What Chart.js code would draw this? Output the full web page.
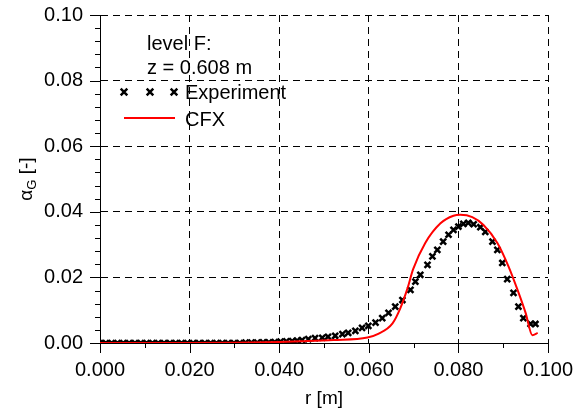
<!DOCTYPE html>
<html>
<head>
<meta charset="utf-8">
<script src="https://cdn.jsdelivr.net/npm/chart.js@4/dist/chart.umd.min.js"></script>
<style>
html,body{margin:0;padding:0;background:#fff;}
canvas{display:block;}
</style>
</head>
<body>
<canvas id="c" width="583" height="410"></canvas>
<script>
// ---- data ----
const rExp = [0.0000,0.0013,0.0026,0.0039,0.0052,0.0065,0.0078,0.0091,0.0104,0.0117,0.0130,0.0143,0.0156,0.0169,0.0182,0.0195,0.0208,0.0221,0.0234,0.0247,0.0260,0.0273,0.0286,0.0299,0.0312,0.0325,0.0338,0.0351,0.0364,0.0377,0.0390,0.0403,0.0416,0.0429,0.0440,
  0.0451,0.0465,0.0480,0.0496,0.0509,0.0525,0.0541,0.0554,0.0570,0.0585,0.0599,0.0615,0.0630,0.0644,0.0659,0.0675,0.0693,0.0704,0.0715,0.0731,0.0742,0.0753,0.0766,0.0778,0.0789,0.0800,0.0811,0.0822,0.0834,0.0849,0.0860,0.0876,0.0887,0.0898,0.0909,0.0923,0.0934,0.0945,0.0961,0.0972];
const alphaExp = [0.0000,0.0000,0.0000,0.0000,0.0000,0.0000,0.0000,0.0000,0.0000,0.0000,0.0000,0.0000,0.0000,0.0000,0.0000,0.0000,0.0000,0.0000,0.0000,0.0000,0.0000,0.0000,0.0000,0.0000,0.0000,0.0001,0.0001,0.0001,0.0002,0.0002,0.0003,0.0004,0.0005,0.0006,0.0007,
  0.0009,0.0012,0.0015,0.0016,0.0019,0.0022,0.0027,0.0031,0.0037,0.0046,0.0052,0.0062,0.0076,0.0092,0.0111,0.0131,0.0162,0.0187,0.0208,0.0238,0.0264,0.0284,0.0309,0.0330,0.0345,0.0355,0.0363,0.0366,0.0362,0.0353,0.0339,0.0309,0.0284,0.0244,0.0195,0.0153,0.0111,0.0076,0.0058,0.0058];
const rCfx = [0.0000,0.0100,0.0200,0.0300,0.0400,0.0447,0.0521,0.0597,0.0621,0.0653,0.0670,0.0686,0.0699,0.0726,0.0760,0.0789,0.0804,0.0831,0.0856,0.0887,0.0912,0.0932,0.0950,0.0965,0.0977];
const alphaCfx = [0.0000,0.0000,0.0000,0.0001,0.0003,0.0005,0.0009,0.0017,0.0028,0.0060,0.0105,0.0165,0.0225,0.0305,0.0365,0.0388,0.0391,0.0384,0.0360,0.0305,0.0233,0.0162,0.0092,0.0024,0.0031];
const xTicksMajor = [0.000,0.020,0.040,0.060,0.080,0.100];
const yTicksMajor = [0.00,0.02,0.04,0.06,0.08,0.10];
const legendTitle = ['level F:', 'z = 0.608 m'];
const seriesNames = ['Experiment', 'CFX'];

const FONT = '"Liberation Sans", Arial, sans-serif';
const isMajor = (v, list) => list.some(m => Math.abs(m - v) < 1e-7);

const tickPlugin = {
  id: 'ticksAndText',
  afterDraw(chart) {
    const ctx = chart.ctx;
    const ca = chart.chartArea;
    const xs = chart.scales.x, ys = chart.scales.y;
    ctx.save();
    ctx.strokeStyle = '#000';
    ctx.lineWidth = 1;
    ctx.beginPath();
    xs.ticks.forEach(t => {
      const px = Math.round(xs.getPixelForValue(t.value)) + 0.5;
      const len = isMajor(t.value, xTicksMajor) ? 10 : 5;
      ctx.moveTo(px, ca.bottom); ctx.lineTo(px, ca.bottom + len);
    });
    ys.ticks.forEach(t => {
      const py = Math.round(ys.getPixelForValue(t.value)) + 0.5;
      const len = isMajor(t.value, yTicksMajor) ? 10 : 5;
      ctx.moveTo(ca.left, py); ctx.lineTo(ca.left - len, py);
    });
    ctx.stroke();

    // y axis title: alpha_G [-]
    ctx.fillStyle = '#000';
    ctx.translate(32, (ca.top + ca.bottom) / 2);
    ctx.rotate(-Math.PI / 2);
    ctx.textBaseline = 'alphabetic';
    ctx.textAlign = 'left';
    const f1 = '19px ' + FONT, f2 = '13px ' + FONT;
    ctx.font = f1; const wa = ctx.measureText('α').width;
    ctx.font = f2; const wg = ctx.measureText('G').width;
    ctx.font = f1; const wb = ctx.measureText(' [-]').width;
    let x0 = -(wa + wg + wb) / 2;
    ctx.font = f1; ctx.fillText('α', x0, 0);
    ctx.font = f2; ctx.fillText('G', x0 + wa, 4);
    ctx.font = f1; ctx.fillText(' [-]', x0 + wa + wg, 0);
    ctx.restore();

    // legend
    ctx.save();
    ctx.fillStyle = '#000';
    ctx.font = '20px ' + FONT;
    ctx.textAlign = 'left';
    ctx.textBaseline = 'alphabetic';
    ctx.fillText(legendTitle[0], 147, 50);
    ctx.fillText(legendTitle[1], 147, 74);
    ctx.fillText(seriesNames[0], 185, 99);
    ctx.fillText(seriesNames[1], 185, 126);
    ctx.strokeStyle = '#000';
    ctx.lineWidth = 2.5;
    [124, 150, 174].forEach(cx => {
      const r = 3.3, cy = 92;
      ctx.beginPath();
      ctx.moveTo(cx - r, cy - r); ctx.lineTo(cx + r, cy + r);
      ctx.moveTo(cx + r, cy - r); ctx.lineTo(cx - r, cy + r);
      ctx.stroke();
    });
    ctx.strokeStyle = '#ff0000';
    ctx.lineWidth = 2;
    ctx.beginPath(); ctx.moveTo(124, 118); ctx.lineTo(175, 118); ctx.stroke();
    ctx.restore();
  }
};

new Chart(document.getElementById('c'), {
  type: 'scatter',
  data: {
    datasets: [
      {
        label: seriesNames[1],
        data: rCfx.map((r, i) => ({x: r, y: alphaCfx[i]})),
        showLine: true,
        borderColor: '#ff0000',
        borderWidth: 2,
        pointRadius: 0,
        cubicInterpolationMode: 'monotone',
        order: 0
      },
      {
        label: seriesNames[0],
        data: rExp.map((r, i) => ({x: r, y: alphaExp[i]})),
        showLine: false,
        pointStyle: 'crossRot',
        pointRadius: 4.2,
        borderColor: '#000',
        backgroundColor: '#000',
        borderWidth: 2.5,
        order: 1
      }
    ]
  },
  options: {
    responsive: false,
    animation: false,
    events: [],
    layout: { padding: { top: 0, right: 35, left: 0, bottom: 0 } },
    plugins: { legend: { display: false }, tooltip: { enabled: false } },
    scales: {
      x: {
        type: 'linear', min: 0, max: 0.1,
        afterFit: s => { s.height = 67; s.paddingLeft = 0; s.paddingRight = 0; },
        afterBuildTicks: s => { s.ticks = [0,0.01,0.02,0.03,0.04,0.05,0.06,0.07,0.08,0.09,0.1].map(v => ({value: v})); },
        ticks: {
          font: { family: FONT, size: 20 }, color: '#000', padding: 15, maxRotation: 0, autoSkip: false,
          callback: v => isMajor(v, xTicksMajor) ? v.toFixed(3) : ''
        },
        grid: { drawTicks: false, lineWidth: 1, color: c => (c.tick && isMajor(c.tick.value, xTicksMajor) && c.tick.value > 0) ? '#000' : 'rgba(0,0,0,0)' },
        border: { display: true, color: '#000', width: 1, dash: [7, 5] },
        title: { display: true, text: 'r [m]', font: { family: FONT, size: 19 }, color: '#000', padding: { top: 5, bottom: 0 } }
      },
      y: {
        type: 'linear', min: 0, max: 0.1,
        afterFit: s => { s.width = 100; s.paddingTop = 15; s.paddingBottom = 0; },
        afterBuildTicks: s => { const a = []; for (let k = 0; k <= 25; k++) a.push({value: Math.round(k * 4) / 1000}); s.ticks = a; },
        ticks: {
          font: { family: FONT, size: 20 }, color: '#000', padding: 17, autoSkip: false,
          callback: v => isMajor(v, yTicksMajor) ? v.toFixed(2) : ''
        },
        grid: { drawTicks: false, lineWidth: 1, color: c => (c.tick && isMajor(c.tick.value, yTicksMajor) && c.tick.value > 0) ? '#000' : 'rgba(0,0,0,0)' },
        border: { display: true, color: '#000', width: 1, dash: [7, 5] },
        title: { display: false }
      }
    }
  },
  plugins: [tickPlugin]
});
</script>
</body>
</html>
